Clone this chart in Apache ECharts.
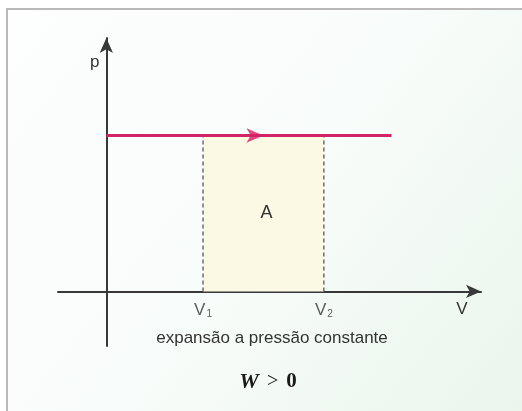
<!DOCTYPE html>
<html>
<head>
<meta charset="utf-8">
<script src="https://cdn.jsdelivr.net/npm/echarts@6/dist/echarts.min.js"></script>
<style>
  html, body { margin: 0; padding: 0; background: #ffffff; overflow: hidden; }
  #chart { width: 522px; height: 411px; }
</style>
</head>
<body>
<div id="chart"></div>
<script>
// Isobaric expansion on a p–V diagram
const volumes = [4, 9];            // V1, V2
const volumeSubscripts = ['1', '2'];
const pressure = 6;                // constant pressure p
const lineEnd = 11.8;              // where the drawn isobar stops
const areaLabel = 'A';
const caption = 'expansão a pressão constante';

const chart = echarts.init(document.getElementById('chart'), null, { renderer: 'canvas' });

const axisColor = '#383838';
const textColor = '#333333';
const sansFont = '"Liberation Sans", Arial, sans-serif';
const serifFont = '"Liberation Serif", "DejaVu Serif", serif';

const [V1, V2] = volumes;

const option = {
  backgroundColor: 'transparent',
  animation: false,
  graphic: [
    // panel background
    {
      type: 'rect',
      z: -10,
      shape: { x: 7, y: 9, width: 520, height: 410 },
      style: {
        fill: new echarts.graphic.LinearGradient(0, 0, 1, 1, [
          { offset: 0, color: '#fdfefe' },
          { offset: 0.5, color: '#f8fcfa' },
          { offset: 1, color: '#eaf5ec' }
        ])
      }
    },
    // panel frame (left and top edges)
    {
      type: 'polyline',
      z: -9,
      shape: { points: [[7, 420], [7, 9], [530, 9]] },
      style: { stroke: '#b9b9b9', lineWidth: 2, fill: null }
    },
    {
      type: 'text',
      x: 272, y: 338,
      style: {
        text: caption,
        font: '17px ' + sansFont,
        fill: textColor,
        align: 'center',
        verticalAlign: 'middle'
      }
    },
    {
      type: 'text',
      x: 268, y: 382,
      style: {
        text: '{w|W}{o|>}{z|0}',
        align: 'center',
        verticalAlign: 'middle',
        rich: {
          w: { font: 'italic bold 22px ' + serifFont, fill: '#1a1a1a' },
          o: { font: '20px ' + serifFont, fill: '#1a1a1a', padding: [0, 8, 0, 8] },
          z: { font: 'bold 21px ' + serifFont, fill: '#1a1a1a' }
        }
      }
    }
  ],
  grid: { left: 58, right: 41, top: 38, bottom: 65, containLabel: false },
  xAxis: {
    type: 'value',
    min: -2,
    max: 15.5,
    name: 'V',
    nameLocation: 'end',
    nameGap: -19,
    nameTextStyle: {
      fontFamily: sansFont, fontSize: 17, color: textColor,
      align: 'center', verticalAlign: 'top', padding: [9, 0, 0, 0]
    },
    splitLine: { show: false },
    axisTick: { show: false },
    axisLabel: { show: false },
    axisLine: {
      onZero: true,
      symbol: ['none', 'arrow'],
      symbolSize: [10, 15],
      lineStyle: { color: axisColor, width: 2 }
    }
  },
  yAxis: {
    type: 'value',
    min: -2.1,
    max: 9.75,
    name: 'p',
    nameLocation: 'end',
    nameGap: -24,
    nameTextStyle: {
      fontFamily: sansFont, fontSize: 17, color: textColor,
      align: 'right', verticalAlign: 'middle', padding: [0, 7, 0, 0]
    },
    splitLine: { show: false },
    axisTick: { show: false },
    axisLabel: { show: false },
    axisLine: {
      onZero: true,
      symbol: ['none', 'arrow'],
      symbolSize: [10, 15],
      lineStyle: { color: axisColor, width: 2 }
    }
  },
  series: [
    // work area under the isobar
    {
      type: 'line',
      silent: true,
      data: [],
      markArea: {
        silent: true,
        itemStyle: { color: '#fbf9e3' },
        label: {
          show: true,
          position: 'inside',
          fontFamily: sansFont,
          fontSize: 18,
          color: textColor,
          offset: [3, 0]
        },
        data: [[
          { name: areaLabel, coord: [V1, 0] },
          { coord: [V2, pressure] }
        ]]
      }
    },
    // dashed guides at V1 and V2
    ...volumes.map(v => ({
      type: 'line',
      silent: true,
      symbol: 'none',
      z: 3,
      data: [[v, 0], [v, pressure]],
      lineStyle: { color: '#4a4a4a', width: 1.2, type: [4, 3] }
    })),
    // V1, V2 labels under the volume axis
    {
      type: 'scatter',
      silent: true,
      symbolSize: 0,
      z: 4,
      data: volumes.map((v, i) => ({ value: [v, 0], sub: volumeSubscripts[i] })),
      label: {
        show: true,
        position: 'bottom',
        distance: 9,
        formatter: p => '{v|V}{s|' + p.data.sub + '}',
        rich: {
          v: { fontFamily: sansFont, fontSize: 17, color: textColor },
          s: { fontFamily: sansFont, fontSize: 10, color: textColor, padding: [9, 0, 0, 1] }
        }
      }
    },
    // the isobar
    {
      type: 'line',
      silent: true,
      symbol: 'none',
      z: 5,
      data: [[0, pressure], [lineEnd, pressure]],
      lineStyle: { color: '#d02467', width: 3 }
    },
    // direction of the process
    {
      type: 'scatter',
      silent: true,
      z: 6,
      symbol: 'arrow',
      symbolRotate: -90,
      symbolSize: [11, 17],
      itemStyle: { color: '#d81f66' },
      data: [[(V1 + V2) / 2, pressure]]
    }
  ]
};

chart.setOption(option);
</script>
</body>
</html>
